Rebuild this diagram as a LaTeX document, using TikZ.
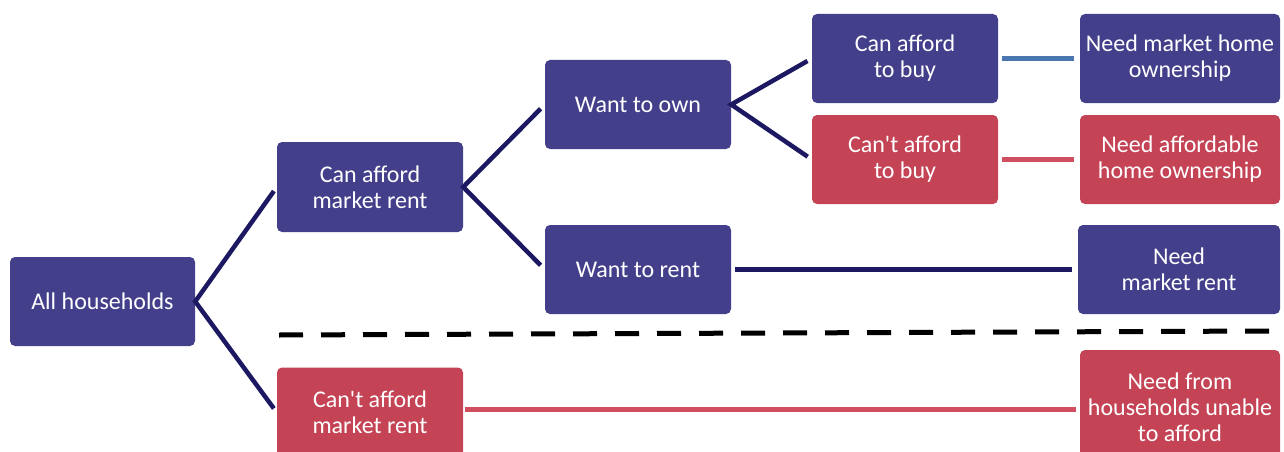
\documentclass[tikz,border=0pt]{standalone}
\usepackage{fontspec}
\setmainfont{Carlito}
\usepackage{tikz}
\usetikzlibrary{calc}

\definecolor{boxblue}{HTML}{433F8B}
\definecolor{boxred}{HTML}{C44456}
\definecolor{navyline}{HTML}{1C1862}
\definecolor{steelline}{HTML}{4A77B0}
\definecolor{redline}{HTML}{D04E60}

\tikzset{
  box/.style={rounded corners=5pt, text=white, align=center, inner sep=0pt,
    minimum width=186pt, minimum height=89pt,
    font=\fontsize{24}{26}\selectfont},
  bluebox/.style={box, fill=boxblue},
  redbox/.style={box, fill=boxred},
  link/.style={line width=4.5pt, color=navyline, line join=miter},
}

\begin{document}
\begin{tikzpicture}[x=1pt,y=-1pt]
\useasboundingbox (0,0) rectangle (1284,452);
\clip (0,0) rectangle (1284,452);

\coordinate (all_c) at (102.5,301.5);
\coordinate (rent_st) at (370,187);
\coordinate (dist) at (268,0);
\coordinate (own_c) at ($(rent_st)+(dist)+(0,-82.5)$);
\coordinate (wrent_c) at ($(rent_st)+(dist)+(0,82.5)$);
\coordinate (buy_c) at (905,58.5);
\coordinate (nobuy_c) at (905,159.5);

\node[bluebox, minimum width=185pt] (all) at (all_c) {All households};
\node[bluebox, minimum height=90pt] (canrent) at (rent_st) {Can afford\\market rent};
\node[redbox, minimum height=90pt] (cantrent) at (370,412.5) {Can\textquotesingle t afford\\market rent};
\node[bluebox] (own) at (own_c) {Want to own};
\node[bluebox] (wrent) at (wrent_c) {Want to rent};
\node[bluebox] (buy) at (buy_c) {Can afford\\to buy};
\node[redbox] (nobuy) at (nobuy_c) {Can\textquotesingle t afford\\to buy};
\node[bluebox, minimum width=200pt] (needown) at (1180,58.5) {Need market home\\ownership};
\node[redbox, minimum width=200pt] (needaff) at (1180,159.5) {Need affordable\\home ownership};
\node[bluebox, minimum width=202pt] (needrent) at (1179,269.5) {Need\\market rent};
\node[redbox, minimum width=200pt, minimum height=114pt] (needunable) at (1180,407) {Need from\\households unable\\to afford};

\draw[link, shorten <=5pt, shorten >=5pt] (canrent.west)--(all.east)--(cantrent.west);
\draw[link, shorten <=6pt, shorten >=6pt] (own.west)--(canrent.east)--(wrent.west);
\draw[link, shorten <=5pt, shorten >=5pt] (buy.west)--(own.east)--(nobuy.west);

\draw[link, color=steelline, shorten <=4pt, shorten >=6pt] (buy)--(needown);
\draw[link, color=redline, shorten <=4pt, shorten >=6pt] (nobuy)--(needaff);
\draw[link, shorten <=4pt, shorten >=6pt] (wrent)--(needrent);
\coordinate (unable_w) at ([yshift=3.5pt]cantrent -| needunable.west);
\draw[link, color=redline, line width=5pt, shorten <=2pt, shorten >=4pt] ([yshift=3.5pt]cantrent.east)--(unable_w);

\draw[line width=5pt, dash pattern=on 24pt off 18pt] (279,335)--(1270,331);
\end{tikzpicture}
\end{document}
